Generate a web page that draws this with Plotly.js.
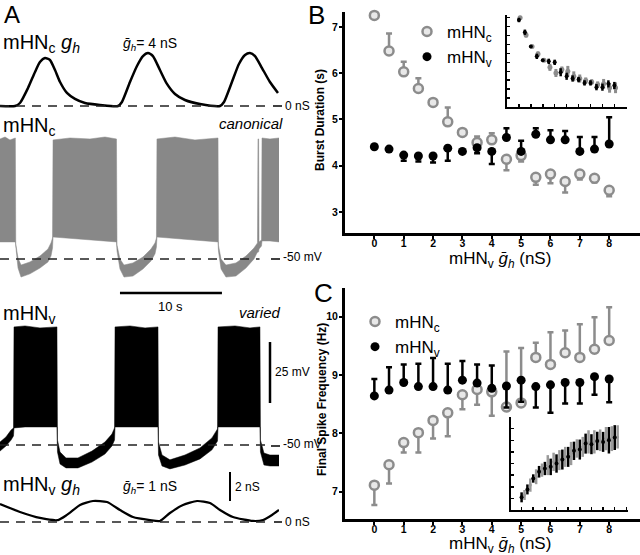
<!DOCTYPE html>
<html>
<head>
<meta charset="utf-8">
<script src="https://cdn.plot.ly/plotly-3.0.1.min.js"></script>
<style>
  html, body { margin: 0; padding: 0; background: #fff; }
  #fig { width: 640px; height: 555px; }
</style>
</head>
<body>
<div id="fig"></div>
<script>
const ghcT = [0,1.46,1.94,2.72,3.40,3.88,4.37,4.85,5.34,5.83,6.50,7.28,8.25,9.71,11.46,11.84,12.62,13.30,13.88,14.37,14.85,15.53,16.21,16.99,17.96,19.42,21.36,21.75,22.52,23.20,23.79,24.27,24.76,25.44,26.21,26.99];
const ghcG = [0,0,0.2,1.2,2.27,2.93,3.2,3.07,2.4,1.6,0.87,0.47,0.2,0.07,0,0.27,1.6,2.67,3.33,3.53,3.33,2.4,1.47,0.8,0.4,0.13,0,0.27,1.6,2.8,3.4,3.53,3.33,2.53,1.6,0.87];

// canonical voltage envelope (upper / lower edge of the spike band, mV)
const vcT  = [0,0.49,0.97,1.49,1.53,1.75,2.04,2.91,3.88,4.66,4.95,5.10,5.15,6.80,8.74,10.19,11.31,11.36,11.65,12.04,12.91,13.88,14.66,15.05,15.19,15.24,16.99,18.93,21.17,21.21,21.46,21.94,22.91,23.88,24.66,25.00,25.05,25.11,25.15,25.39,25.44,26.21,27.09];
const vcHi = [-0.8,0,-1.2,-0.4,-43.9,-49.6,-52.5,-51.2,-48.8,-45.9,-43.4,-41.4,-1.2,-0.4,-0.8,0,-0.8,-44.3,-50,-52.5,-51.6,-49.2,-45.9,-43.4,-41.4,-0.8,0,-1.2,-0.4,-44.3,-50,-52.5,-51.6,-48.8,-45.5,-43.4,-0.8,-0.8,-43.0,-42.2,-0.4,-0.8,-0.4];
const vcLo = [-43,-43,-43,-43,-46.3,-53.7,-57.4,-56.1,-53.7,-51.2,-48.8,-45.5,-41.0,-41.4,-42.2,-42.6,-43.0,-46.7,-54.1,-57.4,-57.0,-54.1,-50.8,-47.9,-45.1,-41.0,-41.4,-42.2,-43.0,-46.7,-54.1,-57.4,-57.0,-53.7,-50.0,-47.1,-47.3,-47.0,-45.9,-44.7,-42.6,-42.6,-43.0];

// varied voltage envelope
const vvT  = [0,0.58,1.07,1.31,1.36,2.43,3.88,5.53,5.58,5.83,6.41,7.57,8.93,10.19,10.87,11.12,11.17,12.62,14.08,15.34,15.39,15.73,16.50,17.96,19.42,20.58,21.12,21.17,22.82,24.27,25.24,25.29,25.63,26.21,27.09];
const vvHi = [-48.8,-46.7,-43.9,-43.0,-1.6,-1.2,-2.0,-1.6,-48.0,-52.9,-55.3,-55.3,-52.5,-48.8,-45.5,-43.0,-1.6,-1.2,-2.0,-1.6,-48.8,-54.1,-56.1,-54.1,-51.2,-47.1,-43.4,-1.6,-1.2,-2.0,-1.6,-48.0,-53.3,-54.1,-54.1];
const vvLo = [-52.5,-50.4,-48.0,-46.3,-43.0,-42.6,-42.6,-42.6,-52.9,-57.8,-59.4,-59.4,-57.0,-53.7,-50.4,-48.0,-42.6,-42.6,-42.6,-42.6,-54.1,-58.6,-59.8,-58.2,-55.7,-52.0,-48.4,-42.6,-42.6,-42.6,-42.6,-52.9,-58.2,-58.6,-58.6];

const ghvT = [0,1.94,3.88,5.63,6.50,7.77,9.03,10.39,11.65,12.91,14.56,15.53,16.50,17.77,19.13,20.39,21.36,22.62,24.56,25.53,26.41,27.09];
const ghvG = [1.2,0.67,0.27,0.13,0.47,1.13,1.4,1.33,0.8,0.33,0.13,0.07,0.6,1.13,1.4,1.27,0.8,0.33,0.07,0.13,0.47,0.8];

// ---- panels B and C ----
const gbar = [0,0.5,1,1.5,2,2.5,3,3.5,4,4.5,5,5.5,6,6.5,7,7.5,8];

const burstC     = [7.25,6.48,6.03,5.67,5.37,4.95,4.72,4.50,4.56,4.14,4.22,3.75,3.82,3.66,3.82,3.73,3.47];
const burstCUp   = [0.25,0.38,0.22,0.22,0.05,0.31,0,0.13,0.14,0,0,0,0,0,0,0,0];
const burstCDown = [0,0,0,0,0,0,0,0,0,0.24,0.13,0.16,0.20,0.24,0.12,0.09,0.13];
const burstV     = [4.41,4.36,4.23,4.21,4.21,4.38,4.31,4.39,4.31,4.61,4.31,4.68,4.56,4.56,4.31,4.36,4.47];
const burstVUp   = [0,0,0,0,0,0,0,0,0,0.20,0.23,0.13,0.21,0.19,0.31,0.26,0.58];
const burstVDown = [0.03,0.03,0.12,0.12,0.14,0.27,0.02,0.12,0.27,0,0,0,0,0,0,0,0];

const freqC     = [7.11,7.46,7.84,8.01,8.22,8.35,8.66,8.75,8.71,8.45,8.52,9.30,9.18,9.38,9.30,9.44,9.59];
const freqCUp   = [0,0,0,0,0,0,0,0,0,0.95,0.94,0.25,0.55,0.38,0.57,0.55,0.57];
const freqCDown = [0.34,0.32,0.17,0.34,0.31,0.40,0.25,0.26,0.41,0,0,0,0,0,0,0,0];
const freqV     = [8.64,8.74,8.87,8.80,8.80,8.74,8.91,8.86,8.77,8.81,8.91,8.80,8.83,8.87,8.87,8.97,8.93];
const freqVUp   = [0.29,0.39,0.31,0.39,0.49,0.45,0.33,0.32,0.39,0,0,0,0,0,0,0,0];
const freqVDown = [0,0,0,0,0,0,0,0,0,0.37,0.37,0.36,0.48,0.36,0.36,0.31,0.40];

// insets (unlabelled axes)
const insBC    = [10.0,8.07,6.78,5.93,5.22,4.44,3.81,4.19,4.0,3.44,3.19,2.96,2.81,2.52,2.59,2.15,2.15];
const insBCErr = [0.2,0.3,0.1,0.3,0.1,0.4,0.45,0.35,0.6,0.55,0.45,0.35,0.3,0.35,0.55,0.55,0.6];
const insBV    = [9.74,8.37,6.78,5.67,5.22,5.11,5.0,3.89,3.44,3.19,3.07,2.70,2.70,2.22,2.22,2.59,2.41];
const insBVErr = [0.25,0.3,0.1,0.3,0.1,0.3,0.3,0.45,0.4,0.35,0.3,0.3,0.3,0.35,0.4,0.4,0.4];

const insCC    = [1.29,2.14,2.86,3.43,3.86,4.14,4.29,4.57,4.86,5.29,5.43,5.86,5.86,6.0,6.14,6.14,6.29];
const insCCErr = [0.43,0.57,0.64,0.57,0.86,0.79,0.86,0.86,1.0,0.79,0.86,1.0,1.0,0.93,1.0,1.07,1.0];
const insCV    = [1.09,1.77,2.71,3.29,3.57,3.71,4.0,4.34,4.57,5.09,5.2,5.71,5.66,5.94,5.86,6.0,6.23];
const insCVErr = [0.43,0.43,0.36,0.5,0.57,0.71,0.79,0.86,0.86,0.79,0.86,0.86,0.86,0.79,0.86,1.14,1.07];

const W = 640, H = 555;
const FONT = 'Liberation Sans, Arial, Helvetica, sans-serif';
const GRAY = '#8c8c8c';
function dx(a, b) { return [a / W, b / W]; }
function dy(top, bot) { return [1 - bot / H, 1 - top / H]; }
function px(x) { return x / W; }
function py(y) { return 1 - y / H; }

function band(t, hi, lo) {
  return { x: t.concat(t.slice().reverse()), y: hi.concat(lo.slice().reverse()) };
}

const vc = band(vcT, vcHi, vcLo);
const vv = band(vvT, vvHi, vvLo);
const shift = (arr, d) => arr.map(v => v + d);

const data = [
  { x: ghcT, y: ghcG, xaxis: 'x', yaxis: 'y', mode: 'lines',
    line: { color: '#000', width: 2.5, shape: 'spline', smoothing: 0.6 }, showlegend: false, hoverinfo: 'skip' },
  { x: vc.x, y: vc.y, xaxis: 'x', yaxis: 'y2', mode: 'lines', fill: 'toself',
    fillcolor: '#888', line: { color: '#888', width: 0.5 }, showlegend: false, hoverinfo: 'skip' },
  { x: vv.x, y: vv.y, xaxis: 'x', yaxis: 'y3', mode: 'lines', fill: 'toself',
    fillcolor: '#000', line: { color: '#000', width: 0.5 }, showlegend: false, hoverinfo: 'skip' },
  { x: ghvT, y: ghvG, xaxis: 'x', yaxis: 'y4', mode: 'lines',
    line: { color: '#000', width: 2.2, shape: 'spline', smoothing: 0.6 }, showlegend: false, hoverinfo: 'skip' },

  // inset B
  { x: shift(gbar, 0.1), y: insBC, xaxis: 'x4', yaxis: 'y7', mode: 'markers', showlegend: false,
    marker: { color: GRAY, size: 5 },
    error_y: { type: 'data', array: insBCErr, color: GRAY, thickness: 3, width: 0 } },
  { x: gbar, y: insBV, xaxis: 'x4', yaxis: 'y7', mode: 'markers', showlegend: false,
    marker: { color: '#000', size: 4 },
    error_y: { type: 'data', array: insBVErr, color: '#000', thickness: 2.5, width: 0 } },
  // inset C
  { x: shift(gbar, 0.25), y: insCC, xaxis: 'x5', yaxis: 'y8', mode: 'markers', showlegend: false,
    marker: { color: '#9a9a9a', size: 3 },
    error_y: { type: 'data', array: insCCErr, color: '#9a9a9a', thickness: 2.5, width: 0 } },
  { x: gbar, y: insCV, xaxis: 'x5', yaxis: 'y8', mode: 'markers', showlegend: false,
    marker: { color: '#000', size: 4 },
    error_y: { type: 'data', array: insCVErr, color: '#000', thickness: 2.5, width: 0 } },

  // panel B
  { x: gbar, y: burstC, xaxis: 'x2', yaxis: 'y5', mode: 'markers', name: 'mHN<sub>c</sub>',
    legend: 'legend', cliponaxis: false,
    marker: { color: '#e8e8e8', size: 9, line: { color: GRAY, width: 2.5 } },
    error_y: { type: 'data', symmetric: false, array: burstCUp, arrayminus: burstCDown, color: GRAY, thickness: 2.5, width: 3 } },
  { x: gbar, y: burstV, xaxis: 'x2', yaxis: 'y5', mode: 'markers', name: 'mHN<sub>v</sub>',
    legend: 'legend', cliponaxis: false,
    marker: { color: '#000', size: 9 },
    error_y: { type: 'data', symmetric: false, array: burstVUp, arrayminus: burstVDown, color: '#000', thickness: 2.5, width: 3 } },
  // panel C
  { x: gbar, y: freqC, xaxis: 'x3', yaxis: 'y6', mode: 'markers', name: 'mHN<sub>c</sub>',
    legend: 'legend2', cliponaxis: false,
    marker: { color: '#e8e8e8', size: 9, line: { color: GRAY, width: 2.5 } },
    error_y: { type: 'data', symmetric: false, array: freqCUp, arrayminus: freqCDown, color: GRAY, thickness: 2.5, width: 3 } },
  { x: gbar, y: freqV, xaxis: 'x3', yaxis: 'y6', mode: 'markers', name: 'mHN<sub>v</sub>',
    legend: 'legend2', cliponaxis: false,
    marker: { color: '#000', size: 9 },
    error_y: { type: 'data', symmetric: false, array: freqVUp, arrayminus: freqVDown, color: '#000', thickness: 2.5, width: 3 } }
];

const hidden = { visible: false, showgrid: false, zeroline: false, fixedrange: true };
const mainAx = {
  showline: true, linewidth: 3, linecolor: '#000', showgrid: false, zeroline: false,
  ticks: 'outside', ticklen: 3, tickwidth: 2, tickcolor: '#000', dtick: 1, ticklabelstandoff: -1,
  tickfont: { family: FONT, size: 10.5, color: '#000', weight: 700 }
};
const insAx = {
  showline: true, linewidth: 2, linecolor: '#000', showgrid: false, zeroline: false,
  ticks: 'inside', ticklen: 3, tickwidth: 1.5, tickcolor: '#000', dtick: 1, tick0: 0,
  showticklabels: false
};

function ann(text, x, y, size, extra) {
  return Object.assign({
    text: text, xref: 'paper', yref: 'paper', x: px(x), y: py(y),
    xanchor: 'left', yanchor: 'middle', showarrow: false,
    font: { family: FONT, size: size, color: '#000' }
  }, extra || {});
}
function hline(x0, x1, y, w) {
  return { type: 'line', xref: 'paper', yref: 'paper', x0: px(x0), x1: px(x1), y0: py(y), y1: py(y),
    line: { color: '#000', width: w || 1.5 } };
}
const dash = { color: '#222', width: 1.5, dash: '9px,7px' };
const boldTitle = { family: FONT, size: 12, color: '#000', weight: 700 };

const layout = {
  width: W, height: H,
  margin: { l: 0, r: 0, t: 0, b: 0 },
  paper_bgcolor: '#fff', plot_bgcolor: 'rgba(0,0,0,0)',
  font: { family: FONT, color: '#000' },
  xaxis:  Object.assign({}, hidden, { domain: dx(0, 279), range: [0, 27.09], anchor: 'y4' }),
  yaxis:  Object.assign({}, hidden, { domain: dy(50, 110), range: [-0.267, 3.733], anchor: 'x' }),
  yaxis2: Object.assign({}, hidden, { domain: dy(130, 285), range: [-60.66, 2.87], anchor: 'x' }),
  yaxis3: Object.assign({}, hidden, { domain: dy(320, 475), range: [-62.3, 1.23], anchor: 'x' }),
  yaxis4: Object.assign({}, hidden, { domain: dy(495, 530), range: [-0.533, 1.8], anchor: 'x' }),

  xaxis2: Object.assign({}, mainAx, { domain: dx(345, 640), range: [-1, 9.05], anchor: 'y5', tickvals: [0,1,2,3,4,5,6,7,8], ticklabelstandoff: -5 }),
  yaxis5: Object.assign({}, mainAx, { domain: dy(12, 233), range: [2.546, 7.324], anchor: 'x2', tickvals: [3,4,5,6,7] }),
  xaxis3: Object.assign({}, mainAx, { domain: dx(345, 640), range: [-1, 9.05], anchor: 'y6', tickvals: [0,1,2,3,4,5,6,7,8], ticklabelstandoff: -5 }),
  yaxis6: Object.assign({}, mainAx, { domain: dy(288, 519), range: [6.53, 10.49], anchor: 'x3', tickvals: [7,8,9,10] }),

  xaxis4: Object.assign({}, insAx, { domain: dx(507, 627), range: [-1, 9.06], anchor: 'y7' }),
  yaxis7: Object.assign({}, insAx, { domain: dy(15, 107), range: [0, 10.3], anchor: 'x4' }),
  xaxis5: Object.assign({}, insAx, { domain: dx(511, 628), range: [-0.91, 9.14], anchor: 'y8' }),
  yaxis8: Object.assign({}, insAx, { domain: dy(417, 510), range: [0, 8], anchor: 'x5' }),

  legend: { x: px(407), y: py(14), xanchor: 'left', yanchor: 'top', bgcolor: 'rgba(0,0,0,0)',
    font: { family: FONT, size: 17, color: '#000' }, tracegroupgap: 0 },
  legend2: { x: px(355), y: py(304), xanchor: 'left', yanchor: 'top', bgcolor: 'rgba(0,0,0,0)',
    font: { family: FONT, size: 17, color: '#000' }, tracegroupgap: 0 },

  shapes: [
    // baselines
    { type: 'line', xref: 'x', yref: 'y', x0: 0, x1: 26.2, y0: 0, y1: 0, line: dash },
    { type: 'line', xref: 'x', yref: 'y2', x0: 0, x1: 25.2, y0: -50, y1: -50, line: dash },
    { type: 'line', xref: 'x', yref: 'y3', x0: 0, x1: 25.8, y0: -50, y1: -50, line: dash },
    { type: 'line', xref: 'x', yref: 'y4', x0: 0, x1: 26.2, y0: 0, y1: 0, line: dash },
    hline(273, 282, 106), hline(271, 280, 259), hline(271, 280, 446), hline(274, 282, 522),
    // scale bars
    { type: 'line', xref: 'x', yref: 'paper', x0: 11.65, x1: 21.55, y0: py(293), y1: py(293), line: { color: '#000', width: 2.5 } },
    { type: 'line', xref: 'paper', yref: 'y3', x0: px(270), x1: px(270), y0: -7.8, y1: -32.8, line: { color: '#000', width: 2.5 } },
    { type: 'line', xref: 'paper', yref: 'paper', x0: px(230), x1: px(230), y0: py(472), y1: py(501), line: { color: '#000', width: 2 } }
  ],

  annotations: [
    ann('A', 2, 15, 24),
    ann('B', 306, 15, 26),
    ann('C', 312, 293, 26),
    ann('mHN<sub>c</sub> <i>g<sub>h</sub></i>', 1, 44, 20),
    ann('<i>ḡ<sub>h</sub></i>= 4 nS', 121, 44, 14),
    ann('0 nS', 283, 106, 12),
    ann('mHN<sub>c</sub>', 1, 126, 20),
    ann('<i>canonical</i>', 285, 124, 15, { xanchor: 'right' }),
    ann('-50 mV', 281, 257, 12),
    ann('10 s', 170, 306, 13, { xanchor: 'center' }),
    ann('mHN<sub>v</sub>', 1, 314, 20),
    ann('<i>varied</i>', 283, 312, 15, { xanchor: 'right' }),
    ann('25 mV', 273, 372, 12),
    ann('-50 mV', 281, 444, 12),
    ann('mHN<sub>v</sub> <i>g<sub>h</sub></i>', 1, 485, 20),
    ann('<i>ḡ<sub>h</sub></i>= 1 nS', 121, 487, 14),
    ann('2 nS', 233, 487, 12),
    ann('0 nS', 283, 522, 12),
    ann('Burst Duration (s)', 320, 120, 12, { xanchor: 'center', textangle: -90, font: boldTitle }),
    ann('Final Spike Frequency (Hz)', 322, 400, 12, { xanchor: 'center', textangle: -90, font: boldTitle }),
    ann('mHN<sub>v</sub> <i>ḡ<sub>h</sub></i> (nS)', 500, 260, 17, { xanchor: 'center' }),
    ann('mHN<sub>v</sub> <i>ḡ<sub>h</sub></i> (nS)', 500, 545, 17, { xanchor: 'center' })
  ]
};

Plotly.newPlot('fig', data, layout, { staticPlot: true, displayModeBar: false });
</script>
</body>
</html>
